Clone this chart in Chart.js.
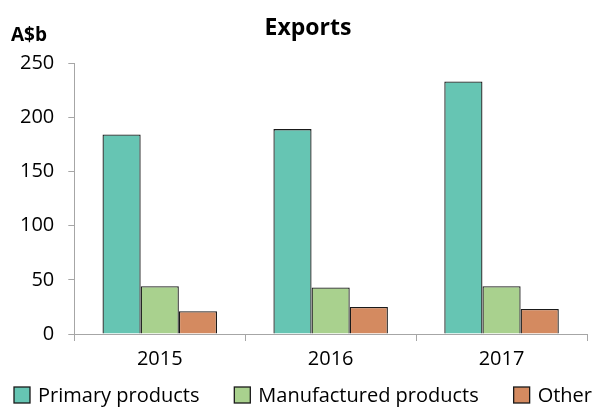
<!DOCTYPE html>
<html>
<head>
<meta charset="utf-8">
<script src="https://cdn.jsdelivr.net/npm/chart.js@4/dist/chart.umd.min.js"></script>
<style>
  html, body { margin: 0; padding: 0; background: #fff; }
  #wrap { width: 595px; height: 408px; }
</style>
</head>
<body>
<div id="wrap"><canvas id="grafExports"></canvas></div>
<script>
// data
const anos = ["2015", "2016", "2017"];
const primarios = [184, 189, 233];
const manufaturados = [44, 43, 44];
const outros = [21, 25, 23];
const ticksY = [0, 50, 100, 150, 200, 250];

const FONTE = "'Open Sans', 'Noto Sans', sans-serif";

// ------------------------------------------------------
// title, "A$b" unit label and a one-line legend
// ------------------------------------------------------
const textos = {
  id: "textos",
  afterDraw(chart) {
    const c = chart.ctx;
    c.save();
    c.fillStyle = "#000";
    c.textBaseline = "middle";

    c.font = "bold 23px " + FONTE;
    c.textAlign = "center";
    c.fillText("Exports", 308, 28);

    c.font = "bold 19px " + FONTE;
    c.textAlign = "left";
    c.fillText("A$b", 11, 36);

    // legend spread over the full width, as in the reference
    c.font = "20px " + FONTE;
    const caixa = 16, folga = 8;
    const itens = chart.data.datasets.map(d => ({
      d, w: caixa + folga + c.measureText(d.label).width
    }));
    const total = itens.reduce((s, i) => s + i.w, 0);
    const gap = (578 - total) / (itens.length - 1);
    let x = 14;
    const y = 395;
    itens.forEach(i => {
      c.fillStyle = i.d.backgroundColor;
      c.fillRect(x, y - caixa / 2, caixa, caixa);
      c.strokeStyle = i.d.borderColor;
      c.lineWidth = 1.3;
      c.strokeRect(x, y - caixa / 2, caixa, caixa);
      c.fillStyle = "#000";
      c.fillText(i.d.label, x + caixa + folga, y + 1);
      x += i.w + gap;
    });
    c.restore();
  }
};

new Chart(document.getElementById("grafExports"), {
  type: "bar",
  data: {
    labels: anos,
    datasets: [
      { label: "Primary products", data: primarios, backgroundColor: "#66c5b3" },
      { label: "Manufactured products", data: manufaturados, backgroundColor: "#a9d18e" },
      { label: "Other", data: outros, backgroundColor: "#d48a60" }
    ].map(d => Object.assign(d, {
      borderColor: "#1a1a1a",
      borderWidth: 1.3,
      categoryPercentage: 0.67,
      barPercentage: 1
    }))
  },
  options: {
    responsive: true,
    maintainAspectRatio: false,
    animation: false,
    layout: { padding: { left: 6, right: 8, top: 63, bottom: 31 } },
    plugins: {
      legend: { display: false },
      tooltip: { enabled: false }
    },
    scales: {
      x: {
        offset: true,
        grid: {
          offset: true,
          drawOnChartArea: false,
          color: "#a6a6a6",
          tickLength: 7
        },
        border: { color: "#a6a6a6", width: 1 },
        ticks: { color: "#000", font: { family: FONTE, size: 20 }, padding: 6 }
      },
      y: {
        min: 0,
        max: 250,
        afterBuildTicks(axis) {
          axis.ticks = ticksY.map(v => ({ value: v }));
        },
        grid: {
          drawOnChartArea: false,
          color: "#a6a6a6",
          tickLength: 6
        },
        border: { color: "#a6a6a6", width: 1 },
        ticks: { color: "#000", font: { family: FONTE, size: 20 }, padding: 14 }
      }
    }
  },
  plugins: [textos]
});
</script>
</body>
</html>
